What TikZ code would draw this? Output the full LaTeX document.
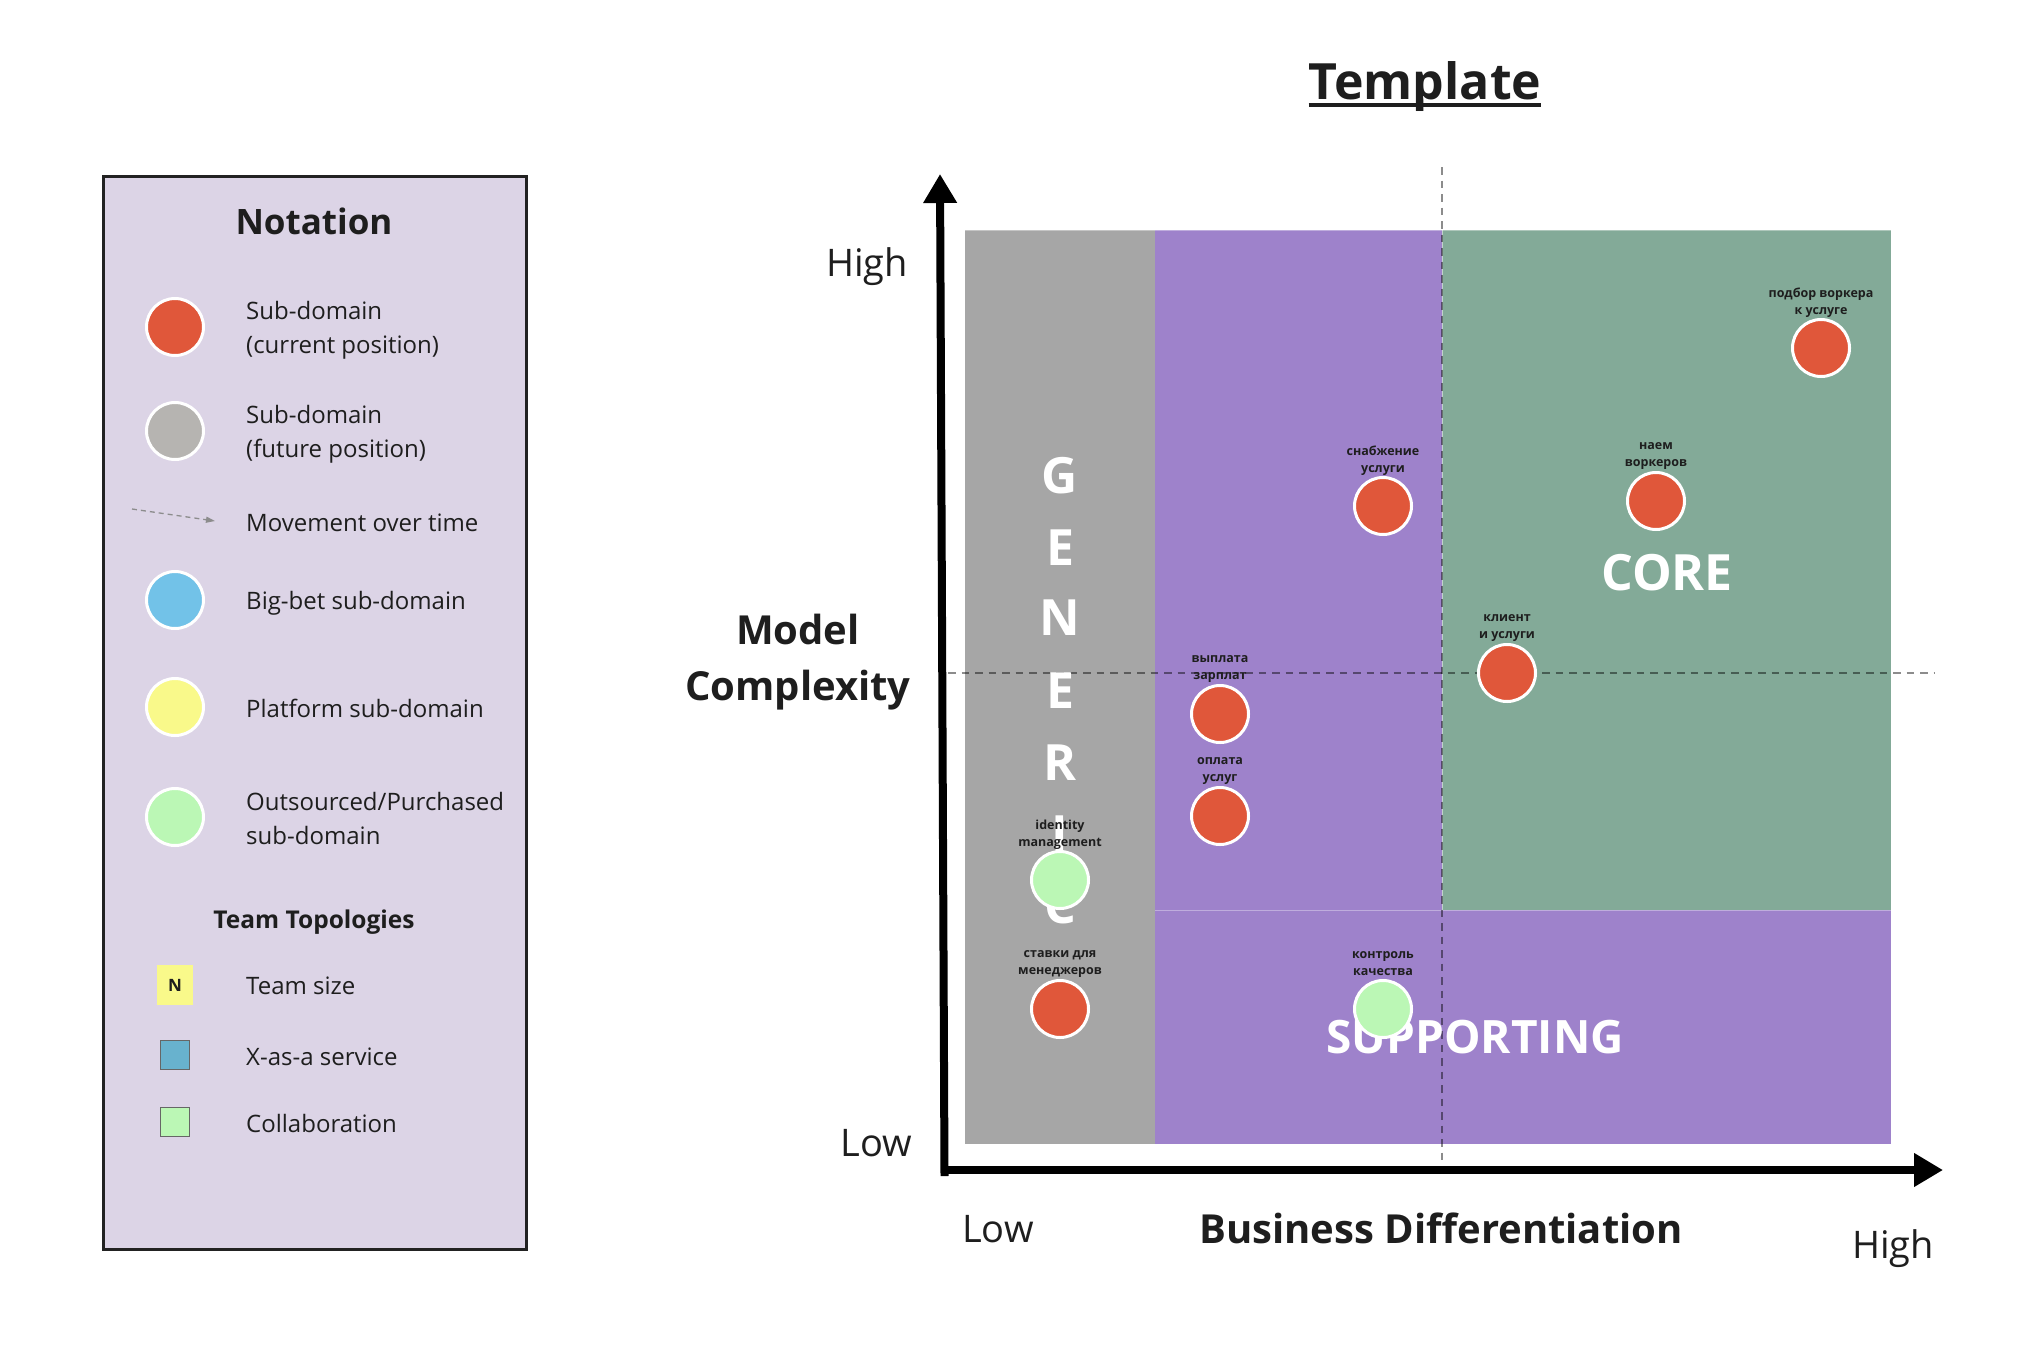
\documentclass[tikz,border=0pt]{standalone}
\usepackage{fontspec}
\setmainfont{Open Sans}
\usetikzlibrary{arrows.meta,calc}
\definecolor{txt}{HTML}{1E1E1E}
\definecolor{legfill}{HTML}{DCD4E6}
\definecolor{legborder}{HTML}{222222}
\definecolor{redc}{HTML}{E0573A}
\definecolor{grayc}{HTML}{B6B4B1}
\definecolor{bluec}{HTML}{72C2E8}
\definecolor{yellowc}{HTML}{F9F98A}
\definecolor{greenc}{HTML}{BBF7B5}
\definecolor{xaasc}{HTML}{68B2CE}
\definecolor{genfill}{HTML}{A6A6A6}
\definecolor{purfill}{HTML}{9E82CB}
\definecolor{corefill}{HTML}{83AA98}
\newcommand\setfs[2]{\fontsize{#1}{#2}\selectfont}
\begin{document}
\begin{tikzpicture}[x=1pt,y=-1pt,
  dom/.style={circle, draw=white, line width=3pt, minimum size=57pt, inner sep=0pt},
  lbl/.style={font=\bfseries\setfs{12.5}{17}, align=center, text=txt, inner sep=0pt},
  legtxt/.style={anchor=west, font=\setfs{24}{34}, align=left, text=txt, inner sep=0pt},
  bigletter/.style={font=\bfseries\setfs{50}{50}, text=white, inner sep=0pt, text height=36pt, text depth=0pt},
  axlbl/.style={font=\setfs{38}{44}, text=txt, inner sep=0pt},
  axtitle/.style={font=\bfseries\setfs{40}{56}, text=txt, inner sep=0pt, align=center},
  quad/.style={dash pattern=on 7.5pt off 6pt, line width=2pt, draw=black, draw opacity=0.45},
  mvline/.style={dash pattern=on 5pt off 4pt, line width=1.3pt, draw=black!45, -{Triangle[length=9pt,width=6pt]}},
  axis/.style={line width=8pt, draw=black, -{Triangle[length=29pt,width=32pt]}},
  sq/.style={inner sep=0pt, minimum width=29pt, minimum height=29pt, draw=black!60, line width=1pt}
]
\useasboundingbox (0,0) rectangle (2042,1352);
\fill[white] (0,0) rectangle (2042,1352);

% ---------------- Legend ----------------
\node[draw=legborder, line width=3pt, fill=legfill, minimum width=423pt, minimum height=1073pt, inner sep=0pt] (legend) at (314.5,712.5) {};
\node[font=\bfseries\setfs{35}{40}, text=txt, inner sep=0pt] (nottitle) at (314,221) {Notation};

\node[dom, fill=redc] (lc1) at (175,327) {};
\node[legtxt] (lt1) at (246,330) {Sub-domain\\(current position)};
\node[dom, fill=grayc] (lc2) at (175,431) {};
\node[legtxt] (lt2) at (246,434) {Sub-domain\\(future position)};
\coordinate (mvA) at (132,509);
\coordinate (mvB) at (215,521);
\draw[mvline] (mvA) -- (mvB);
\node[legtxt] (lt3) at (246,523) {Movement over time};
\node[dom, fill=bluec] (lc4) at (175,600) {};
\node[legtxt] (lt4) at (246,603) {Big-bet sub-domain};
\node[dom, fill=yellowc] (lc5) at (175,707) {};
\node[legtxt] (lt5) at (246,708) {Platform sub-domain};
\node[dom, fill=greenc] (lc6) at (175,817) {};
\node[legtxt] (lt6) at (246,818) {Outsourced/Purchased\\sub-domain};

\node[font=\bfseries\setfs{24.5}{28}, text=txt, inner sep=0pt] (tttitle) at (314,922) {Team Topologies};
\node[fill=yellowc, minimum width=36pt, minimum height=40pt, inner sep=0pt, font=\bfseries\setfs{17}{17}, text=txt] (ts) at (175,985) {N};
\node[legtxt] (lt7) at (246,986) {Team size};
\node[sq, fill=xaasc] (xs) at (175,1055) {};
\node[legtxt] (lt8) at (246,1057) {X-as-a service};
\node[sq, fill=greenc] (cs) at (175,1122) {};
\node[legtxt] (lt9) at (246,1123) {Collaboration};

% ---------------- Title ----------------
\node[font=\bfseries\setfs{50}{60}, text=txt, inner sep=0pt, anchor=base] (title) at (1425,99) {Template};
\draw[line width=3.5pt, txt] ($(title.base west)+(0,6)$) -- ($(title.base east)+(0,6)$);

% ---------------- Regions ----------------
\fill[genfill] (965,230) rectangle (1155,1144);
\fill[purfill] (1155,230) rectangle (1442,910);
\fill[corefill] (1442,230) rectangle (1891,910);
\fill[purfill] (1155,910) rectangle (1891,1144);
\draw[white, opacity=0.35, line width=1pt] (965,230) -- (1891,230);
\draw[white, opacity=0.35, line width=1pt] (1155,910) -- (1891,910);
\draw[white, opacity=0.5, line width=1pt] (1442,230) -- (1442,910);

% dashed quadrant lines
\coordinate (vq1) at (1442,167);
\coordinate (vq2) at (1442,1163);
\coordinate (hq1) at (948,673);
\coordinate (hq2) at (1935,673);
\draw[quad] (vq1) -- (vq2);
\draw[quad] (hq1) -- (hq2);

% region titles
\node[bigletter] (g1) at (1060,475) {G};
\node[bigletter] (g2) at (1060,547) {E};
\node[bigletter] (g3) at (1060,617) {N};
\node[bigletter] (g4) at (1060,690) {E};
\node[bigletter] (g5) at (1060,762) {R};
\node[bigletter] (g6) at (1060,833) {I};
\node[bigletter] (g7) at (1060,905) {C};
\node[bigletter] (core) at (1667,572) {CORE};
\node[font=\bfseries\setfs{46}{46}, text=white, inner sep=0pt, text height=33pt, text depth=0pt] (supp) at (1475,1037) {SUPPORTING};

% ---------------- Axes ----------------
\coordinate (yb) at (944.5,1176);
\coordinate (yt) at (940,174);
\coordinate (xb) at (941,1170);
\coordinate (xt) at (1943,1170);
\draw[axis] (yb) -- (yt);
\draw[axis] (xb) -- (xt);

\node[axlbl, anchor=east] (yhigh) at (908,267) {High};
\node[axlbl, anchor=east] (ylow) at (912,1143) {Low};
\node[axlbl] (xlow) at (998,1229) {Low};
\node[axlbl] (xhigh) at (1893,1249) {High};
\node[axtitle] (xtitle) at (1441,1228) {Business Differentiation};
\node[axtitle] (ytitle) at (798,662) {Model\\Complexity};

% ---------------- Sub-domains ----------------
\node[dom, fill=redc] (c1) at (1821,348) {};
\node[dom, fill=redc] (c2) at (1656,501) {};
\node[dom, fill=redc] (c3) at (1507,673) {};
\node[dom, fill=redc] (c4) at (1383,506) {};
\node[dom, fill=redc] (c5) at (1220,714) {};
\node[dom, fill=redc] (c6) at (1220,816) {};
\node[dom, fill=greenc] (c7) at (1060,880) {};
\node[dom, fill=redc] (c8) at (1060,1009) {};
\node[dom, fill=greenc] (c9) at (1383,1009) {};

\node[lbl] (l1) at ($(c1)+(0,-45)$) {подбор воркера\\к услуге};
\node[lbl] (l2) at ($(c2)+(0,-45)$) {наем\\воркеров};
\node[lbl] (l3) at ($(c3)+(0,-45)$) {клиент\\и услуги};
\node[lbl] (l4) at ($(c4)+(0,-45)$) {снабжение\\услуги};
\node[lbl] (l5) at ($(c5)+(0,-45)$) {выплата\\зарплат};
\node[lbl] (l6) at ($(c6)+(0,-45)$) {оплата\\услуг};
\node[lbl] (l7) at ($(c7)+(0,-45)$) {identity\\management};
\node[lbl] (l8) at ($(c8)+(0,-45)$) {ставки для\\менеджеров};
\node[lbl] (l9) at ($(c9)+(0,-45)$) {контроль\\качества};
\end{tikzpicture}
\end{document}
